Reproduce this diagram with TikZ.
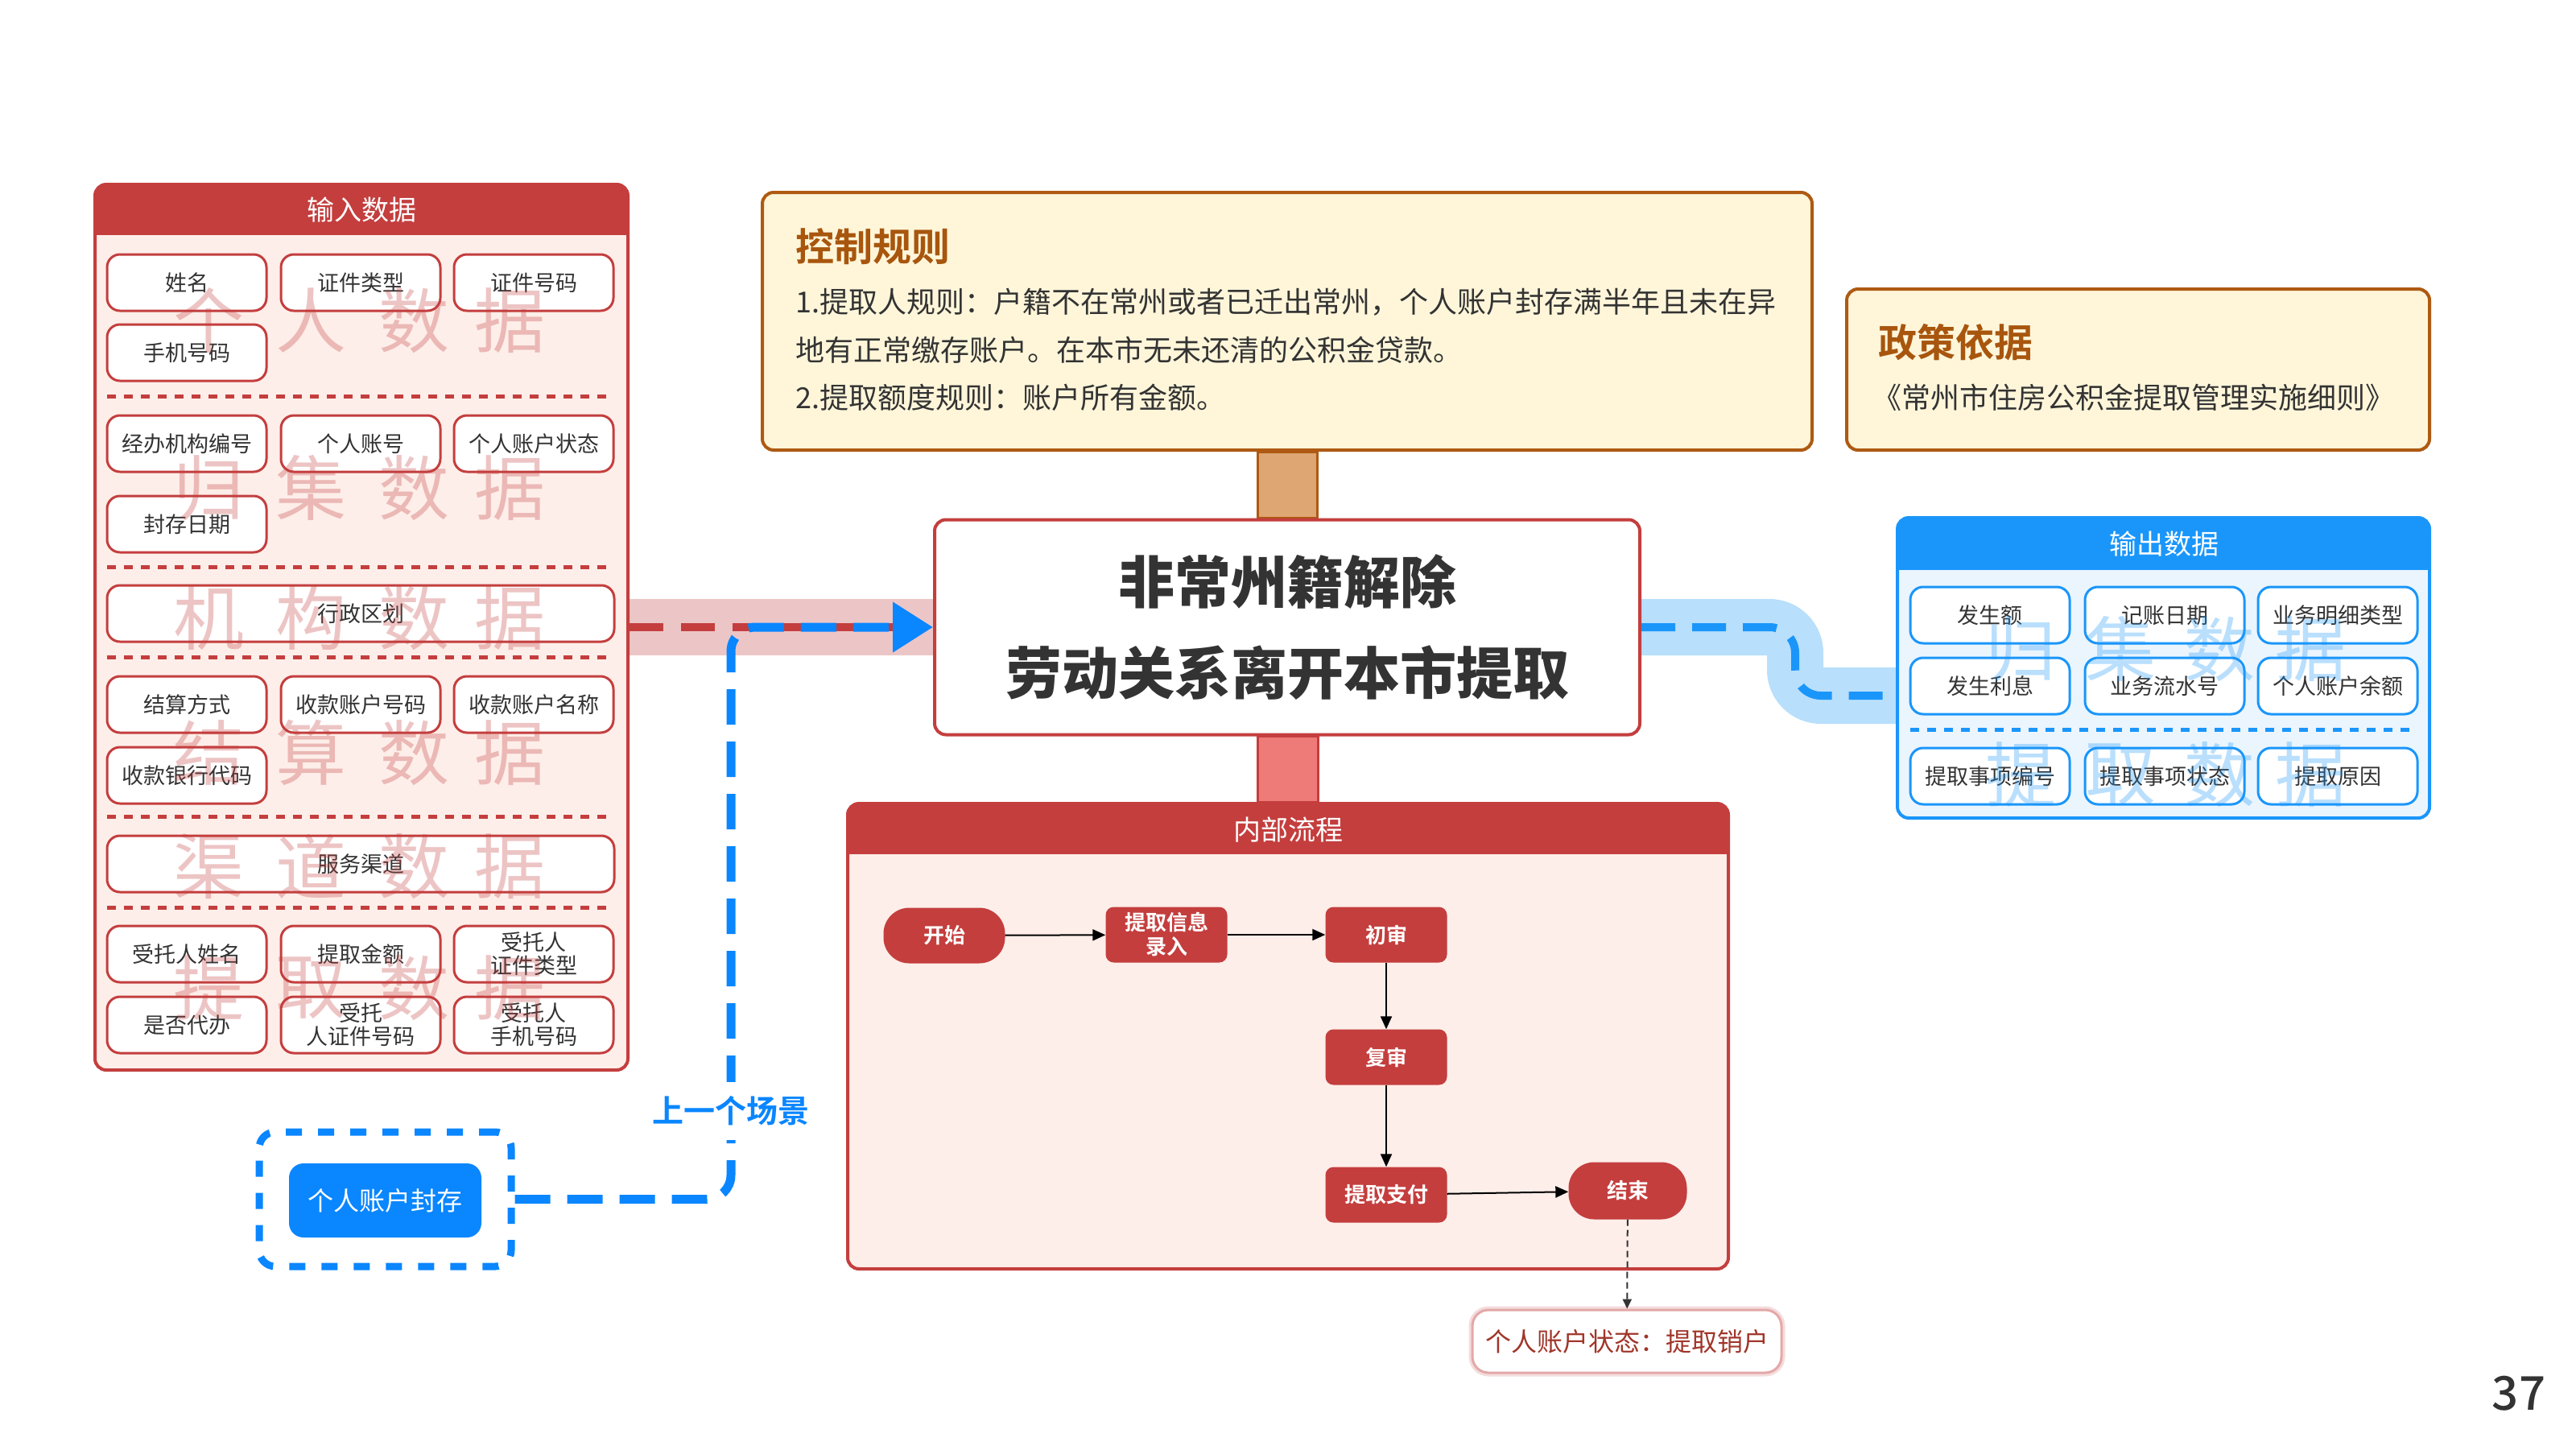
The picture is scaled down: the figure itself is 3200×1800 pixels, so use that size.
\documentclass[tikz,border=0pt]{standalone}
\usepackage{fontspec}
\setmainfont{Noto Sans CJK SC}[BoldFont={Noto Sans CJK SC Bold}]
\newfontfamily\blackfont{Noto Sans CJK SC Black}
\newfontfamily\mediumfont{Noto Sans CJK SC Medium}
\usetikzlibrary{arrows.meta,calc}
\pgfdeclarelayer{bg}
\pgfdeclarelayer{paper}
\pgfsetlayers{paper,bg,main}
\definecolor{redc}{HTML}{C43E3E}
\definecolor{pinkbg}{HTML}{FDEEE9}
\definecolor{txt}{HTML}{333333}
\definecolor{brownc}{HTML}{AE5A12}
\definecolor{creamc}{HTML}{FFF6DA}
\definecolor{tanc}{HTML}{DDA672}
\definecolor{salmonc}{HTML}{EE7B78}
\definecolor{blueh}{HTML}{1A96FA}
\definecolor{bluebg}{HTML}{EBF5FE}
\definecolor{bluek}{HTML}{0A86FF}
\definecolor{bandpink}{HTML}{ECC6C6}
\definecolor{bandblue}{HTML}{B8DFFC}
\definecolor{statred}{HTML}{A0352A}
\definecolor{titlebrown}{HTML}{A8560E}
\begin{document}
\begin{tikzpicture}[x=1pt,y=-1pt,
  ibox/.style={draw=redc, line width=3pt, fill=white, rounded corners=16pt,
    minimum width=198pt, minimum height=70pt, inner sep=0pt, align=center,
    text=txt, font=\fontsize{27}{29}\selectfont},
  obox/.style={ibox, draw=blueh},
  widebox/.style={ibox, minimum width=630pt},
  panel/.style={draw=redc, line width=4pt, fill=pinkbg, rounded corners=14pt, inner sep=0pt},
  headtxt/.style={text=white, font=\fontsize{34}{40}\selectfont},
  wmred/.style={text=redc, text opacity=0.3, font=\fontsize{88}{90}\selectfont, inner sep=0pt},
  wmblue/.style={text=blueh, text opacity=0.3, font=\fontsize{88}{90}\selectfont, inner sep=0pt},
  redsep/.style={draw=redc, line width=5pt, dash pattern=on 11pt off 10pt},
  bluesep/.style={draw=blueh, line width=5pt, dash pattern=on 11pt off 10pt},
  flownode/.style={fill=redc, text=white, font=\bfseries\fontsize{26}{30}\selectfont,
    minimum width=151pt, minimum height=69pt, rounded corners=10pt, inner sep=0pt, align=center},
  stadium/.style={flownode, rounded corners=32pt},
  flowarrow/.style={draw=black, line width=2pt, -{Triangle[length=16pt,width=14pt]}},
  rulebox/.style={draw=brownc, line width=4pt, fill=creamc, rounded corners=14pt, inner sep=0pt},
  ruletxt/.style={anchor=west, text=txt, font=\fontsize{36}{40}\selectfont, inner sep=0pt},
  ruletitle/.style={anchor=west, text=titlebrown, font=\bfseries\fontsize{48}{52}\selectfont, inner sep=0pt}
]
\useasboundingbox (0,0) rectangle (3200,1800);
\begin{pgfonlayer}{paper}
  \fill[white] (0,0) rectangle (3200,1800);
\end{pgfonlayer}

% ---------- input panel ----------
\node[panel, minimum width=662pt, minimum height=1100pt] (inpanel) at (449,779) {};
\begin{scope}
  \clip[rounded corners=14pt] (118,229) rectangle (780,1329);
  \fill[redc] (118,229) rectangle (780,292);
\end{scope}
\node[headtxt] (inhead) at (449,261) {输入数据};

\node[ibox] (i1) at (232,351) {姓名};
\node[ibox] (i2) at (448,351) {证件类型};
\node[ibox] (i3) at (663,351) {证件号码};
\node[ibox] (i4) at (232,438) {手机号码};
\draw[redsep] (133,492) -- (763,492);
\node[ibox] (i5) at (232,551) {经办机构编号};
\node[ibox] (i6) at (448,551) {个人账号};
\node[ibox] (i7) at (663,551) {个人账户状态};
\node[ibox] (i8) at (232,651) {封存日期};
\draw[redsep] (133,704) -- (763,704);
\node[widebox] (i9) at (448,762) {行政区划};
\draw[redsep] (133,816) -- (763,816);
\node[ibox] (i10) at (232,875) {结算方式};
\node[ibox] (i11) at (448,875) {收款账户号码};
\node[ibox] (i12) at (663,875) {收款账户名称};
\node[ibox] (i13) at (232,963) {收款银行代码};
\draw[redsep] (133,1014) -- (763,1014);
\node[widebox] (i14) at (448,1073) {服务渠道};
\draw[redsep] (133,1127) -- (763,1127);
\node[ibox] (i15) at (232,1185) {受托人姓名};
\node[ibox] (i16) at (448,1185) {提取金额};
\node[ibox] (i17) at (663,1185) {受托人\\证件类型};
\node[ibox] (i18) at (232,1273) {是否代办};
\node[ibox] (i19) at (448,1273) {受托\\人证件号码};
\node[ibox] (i20) at (663,1273) {受托人\\手机号码};

\foreach \ch/\xx [count=\k] in {个/259,人/386,数/514,据/633} \node[wmred] (wa\k) at (\xx,398) {\ch};
\foreach \ch/\xx [count=\k] in {归/259,集/386,数/514,据/633} \node[wmred] (wb\k) at (\xx,606) {\ch};
\foreach \ch/\xx [count=\k] in {机/259,构/386,数/514,据/633} \node[wmred] (wc\k) at (\xx,767) {\ch};
\foreach \ch/\xx [count=\k] in {结/259,算/386,数/514,据/633} \node[wmred] (wd\k) at (\xx,935) {\ch};
\foreach \ch/\xx [count=\k] in {渠/259,道/386,数/514,据/633} \node[wmred] (we\k) at (\xx,1076) {\ch};
\foreach \ch/\xx [count=\k] in {提/259,取/386,数/514,据/633} \node[wmred] (wf\k) at (\xx,1227) {\ch};

% ---------- control rules ----------
\node[rulebox, minimum width=1304pt, minimum height=320pt] (ctrl) at (1599,399) {};
\node[ruletitle] (ctrlt) at (988,306) {控制规则};
\node[ruletxt] (ctrl1) at (988,375) {1.提取人规则：户籍不在常州或者已迁出常州，个人账户封存满半年且未在异};
\node[ruletxt] (ctrl2) at (988,435) {地有正常缴存账户。在本市无未还清的公积金贷款。};
\node[ruletxt] (ctrl3) at (988,494) {2.提取额度规则：账户所有金额。};

% ---------- policy ----------
\node[rulebox, minimum width=724pt, minimum height=200pt] (pol) at (2656,459) {};
\node[ruletitle] (polt) at (2333,425) {政策依据};
\node[ruletxt] (pol1) at (2326,494) {《常州市住房公积金提取管理实施细则》};

% ---------- center ----------
\node[draw=redc, line width=4pt, fill=white, rounded corners=14pt, minimum width=876pt,
  minimum height=267pt, align=center, text=txt, inner sep=0pt,
  font=\blackfont\fontsize{70}{113}\selectfont] (center) at (1599,779)
  {非常州籍解除\\劳动关系离开本市提取};

% ---------- internal process ----------
\node[panel, minimum width=1094pt, minimum height=578pt] (proc) at (1600,1287) {};
\begin{scope}
  \clip[rounded corners=14pt] (1053,998) rectangle (2147,1576);
  \fill[redc] (1053,998) rectangle (2147,1061);
\end{scope}
\node[headtxt] (prochead) at (1600,1031) {内部流程};

\node[stadium] (fstart) at (1173,1162) {开始};
\node[flownode] (finput) at (1449,1161) {提取信息\\录入};
\node[flownode] (fchu) at (1722,1161) {初审};
\node[flownode] (ffu) at (1722,1313) {复审};
\node[flownode] (fpay) at (1722,1484) {提取支付};
\node[stadium, minimum width=147pt, minimum height=71pt] (fend) at (2022,1479) {结束};
\draw[flowarrow] (fstart) -- (finput);
\draw[flowarrow] (finput) -- (fchu);
\draw[flowarrow] (fchu) -- (ffu);
\draw[flowarrow] (ffu) -- (fpay);
\draw[flowarrow] (fpay) -- (fend);

\node[draw=redc!45, line width=3pt, preaction={draw=redc!18, line width=9pt},
  fill=white, rounded corners=20pt, minimum width=384pt, minimum height=78pt,
  text=statred, font=\fontsize{32}{36}\selectfont] (stat) at (2021,1666) {个人账户状态：提取销户};
\draw[draw=txt, line width=2pt, dash pattern=on 8pt off 5pt, -{Triangle[length=12pt,width=11pt]}] (fend) -- (stat);

% ---------- output panel ----------
\node[panel, draw=blueh, fill=bluebg, minimum width=661pt, minimum height=373pt] (outpanel) at (2687.5,829.5) {};
\begin{scope}
  \clip[rounded corners=14pt] (2357,643) rectangle (3018,1016);
  \fill[blueh] (2357,643) rectangle (3018,708);
\end{scope}
\node[headtxt] (outhead) at (2688,676) {输出数据};
\node[obox] (o1) at (2472,764) {发生额};
\node[obox] (o2) at (2689,764) {记账日期};
\node[obox] (o3) at (2904,764) {业务明细类型};
\node[obox] (o4) at (2472,852) {发生利息};
\node[obox] (o5) at (2689,852) {业务流水号};
\node[obox] (o6) at (2904,852) {个人账户余额};
\draw[bluesep] (2373,906) -- (3002,906);
\node[obox] (o7) at (2472,964) {提取事项编号};
\node[obox] (o8) at (2689,964) {提取事项状态};
\node[obox] (o9) at (2904,964) {提取原因};
\foreach \ch/\xx [count=\k] in {归/2510,集/2634,数/2757,据/2870} \node[wmblue] (wg\k) at (\xx,806) {\ch};
\foreach \ch/\xx [count=\k] in {提/2510,取/2634,数/2757,据/2870} \node[wmblue] (wh\k) at (\xx,962) {\ch};

% ---------- previous scene ----------
\node[draw=bluek, line width=9pt, dash pattern=on 20pt off 20pt, rounded corners=20pt,
  minimum width=313pt, minimum height=167pt, inner sep=0pt] (prevwrap) at (478.5,1489.5) {};
\node[fill=bluek, rounded corners=18pt, minimum width=239pt, minimum height=92pt, text=white,
  font=\fontsize{32}{36}\selectfont, inner sep=0pt] (prev) at (478.5,1491) {个人账户封存};

% ---------- background connectors ----------
\coordinate (bj) at (908,779);
\coordinate (rj) at (2230,864);
\begin{pgfonlayer}{bg}
  \draw[fill=tanc, draw=brownc, line width=3pt] ($(ctrl.south)+(-37,0)$) rectangle ($(center.north)+(37,0)$);
  \draw[fill=salmonc, draw=redc, line width=3pt] ($(center.south)+(-37,0)$) rectangle ($(proc.north)+(37,0)$);
  \draw[bandpink, line width=70pt] (inpanel.east |- bj) -- (center.west);
  \draw[bandblue, line width=70pt, rounded corners=32pt] (center.east) -| (rj) -- (rj -| outpanel.west);
\end{pgfonlayer}

\draw[redc, line width=10pt, dash pattern=on 42pt off 22pt] (inpanel.east |- bj) -- (center.west);
\draw[blueh, line width=10pt, dash pattern=on 42pt off 21pt, rounded corners=32pt] (center.east) -| (rj) -- (rj -| outpanel.west);
\draw[bluek, line width=11pt, dash pattern=on 44pt off 21pt, rounded corners=30pt,
  -{Triangle[length=50pt,width=60pt]}] (prevwrap.east) -- (prevwrap.east -| bj) -- (bj) -- (center.west);
\node[fill=white, text=bluek, font=\bfseries\fontsize{39}{42}\selectfont, inner xsep=2pt, inner ysep=18pt] (prevlab) at (908,1380) {上一个场景};

\node[text=txt, font=\mediumfont\fontsize{58}{60}\selectfont, inner sep=0pt] (pg) at (3129,1731) {37};
\end{tikzpicture}
\end{document}
